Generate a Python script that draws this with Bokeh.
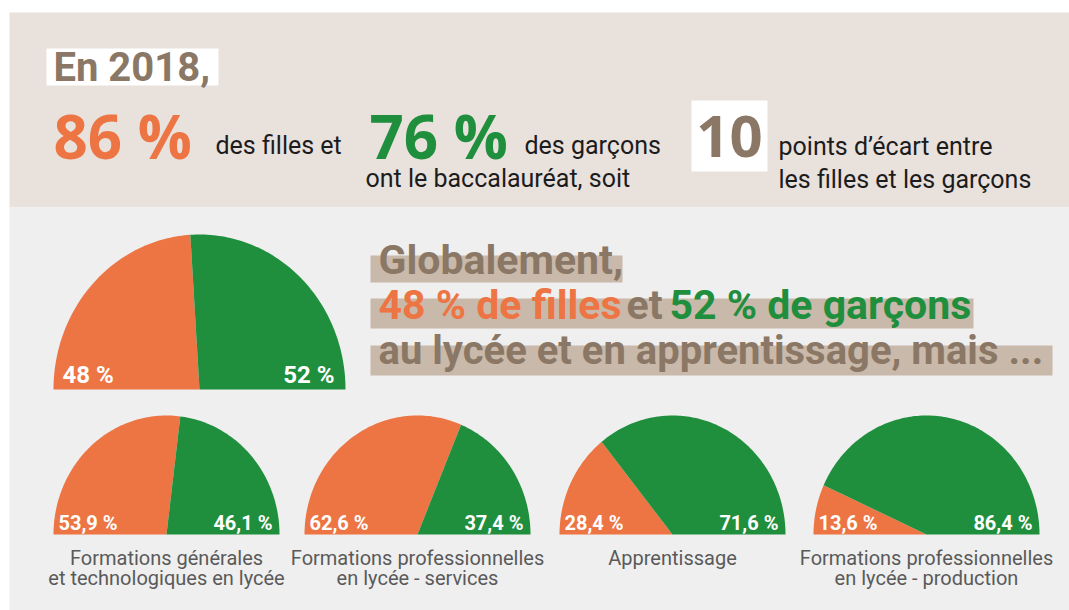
import math
from bokeh.plotting import figure
from bokeh.models import Range1d
from bokeh.core.properties import value
from bokeh.embed import file_html
from bokeh.resources import INLINE

# ---------------- data ----------------
bac_filles = 86
bac_garcons = 76
ecart_points = 10
total_filles = 48
total_garcons = 52
categories = [
    "Formations générales\net technologiques en lycée",
    "Formations professionnelles\nen lycée - services",
    "Apprentissage",
    "Formations professionnelles\nen lycée - production",
]
filles = [53.9, 62.6, 28.4, 13.6]
garcons = [46.1, 37.4, 71.6, 86.4]

# ---------------- style ----------------
ORANGE = "#ed7443"
GREEN = "#1f8e3d"
BROWN = "#8b7765"
TAN = "#c9b9aa"
TOPBG = "#e8e1dc"
LOWBG = "#efefef"
DARK = "#1c1c1c"
GREY = "#5a5a5a"

W, H = 1069, 610
p = figure(width=W, height=H, x_range=Range1d(0, W), y_range=Range1d(H, 0),
           output_backend="svg", toolbar_location=None, min_border=0)
p.axis.visible = False
p.grid.visible = False
p.outline_line_color = None
p.background_fill_color = "white"
p.border_fill_color = "white"

# panels
p.quad(left=[9, 9], right=[W + 2, W + 2], top=[12, 207], bottom=[207, H + 2],
       fill_color=[TOPBG, LOWBG], line_color=None)

K = 0.33  # baseline correction (fraction of font size)


def txt(x, y, t, size, color, bold=False, font="Roboto", align="left"):
    p.text(x=[x], y=[y - K * size], text=[t], text_font=value(font), text_font_size=f"{size}px",
           text_font_style="bold" if bold else "normal", text_color=color,
           text_align=align, text_baseline="alphabetic")


def fmt(v, dec=1):
    s = f"{v:.{dec}f}".replace(".", ",")
    return s + " %"


# ---------------- top band ----------------
p.quad(left=[46], right=[218], top=[48], bottom=[85], fill_color="white", line_color=None)
txt(53, 80, "En 2018,", 40, BROWN, bold=True)

txt(53, 155, f"{bac_filles} %", 60, ORANGE, bold=True, font="Open Sans")
txt(215, 153, "des filles et", 25, DARK)
txt(369, 155, f"{bac_garcons} %", 60, GREEN, bold=True, font="Open Sans")
txt(524, 153, "des garçons", 25, DARK)
txt(365, 186, "ont le baccalauréat, soit", 25, DARK)

p.quad(left=[691], right=[767], top=[100], bottom=[171], fill_color="white", line_color=None)
txt(729, 155, f"{ecart_points}", 58, BROWN, bold=True, font="Open Sans", align="center")
txt(778, 154, "points d\u2019écart entre", 25, DARK)
txt(778, 187, "les filles et les garçons", 25, DARK)

# ---------------- headline ----------------
for (l, r, t, b) in [(370, 622, 255, 282), (370, 973, 298, 328), (370, 1052, 345, 375)]:
    p.quad(left=[l], right=[r], top=[t], bottom=[b], fill_color=TAN, line_color=None)
txt(378, 273, "Globalement,", 41, BROWN, bold=True)
txt(378, 318, f"{total_filles} % de filles", 41, ORANGE, bold=True)
txt(626, 318, "et", 41, BROWN, bold=True)
txt(669, 318, f"{total_garcons} % de garçons", 41, GREEN, bold=True)
txt(378, 363, "au lycée et en apprentissage, mais ...", 40, BROWN, bold=True)


# ---------------- half pies ----------------
def half_pie(cx, base, rx, ry, left_share, total):
    split = math.pi * (1 - left_share / total)

    def arc(a0, a1):
        steps = max(4, int(160 * abs(a1 - a0) / math.pi))
        xs, ys = [cx], [base]
        for i in range(steps + 1):
            a = a0 + (a1 - a0) * i / steps
            xs.append(cx + rx * math.cos(a))
            ys.append(base - ry * math.sin(a))
        return xs, ys

    return arc(math.pi, split), arc(split, 0.0)


def draw_pie(cx, base, rx, ry, f, g, lsize, pad, lift, labels_dec):
    (ox, oy), (gx, gy) = half_pie(cx, base, rx, ry, f, f + g)
    p.patches(xs=[ox, gx], ys=[oy, gy], fill_color=[ORANGE, GREEN], line_color=None)
    txt(cx - rx + pad, base - lift, fmt(f, labels_dec), lsize, "white", bold=True)
    txt(cx + rx - pad - 2, base - lift, fmt(g, labels_dec), lsize, "white", bold=True, align="right")


draw_pie(199, 389, 146, 155, total_filles, total_garcons, 24, 9, 7, 0)

centers = [166, 417, 672, 926]
for cx, cat, f, g in zip(centers, categories, filles, garcons):
    draw_pie(cx, 534, 113, 119, f, g, 20, 5, 5, 1)
    for i, line in enumerate(cat.split("\n")):
        txt(cx, 564 + 20 * i, line, 20, GREY, align="center")

open("out.html", "w").write(file_html(p, INLINE))
